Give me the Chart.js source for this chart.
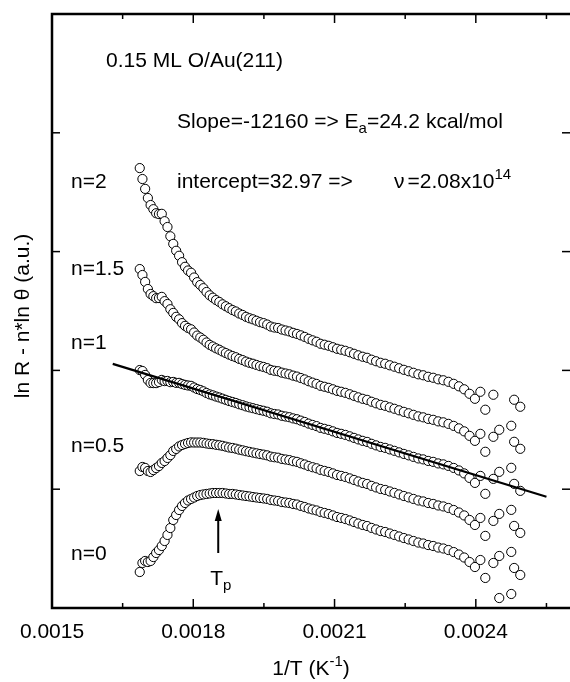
<!DOCTYPE html>
<html>
<head>
<meta charset="utf-8">
<title>ln R - n*ln theta vs 1/T</title>
<script src="https://cdn.jsdelivr.net/npm/chart.js@4.4.1/dist/chart.umd.min.js"></script>
<style>
  html, body { margin: 0; padding: 0; background: #fff; }
  #wrap { width: 570px; height: 682px; }
</style>
</head>
<body>
<div id="wrap"><canvas id="arrhenius" width="570" height="682"></canvas></div>
<script>
// temperatures of the points (K); x axis is 1/T
var temperature = [593,591,589,587,585,583,581,579,577,575,
  573,571,569,567,565,563,561,559,557,555,
  553,551,549,547,545,543,541,539,537,535,
  533,531,529,527,525,523,521,519,517,515,
  513,511,509,507,505,503,501,499,497,495,
  493,491,489,487,485,483,481,479,477,475,
  473,471,469,467,465,463,461,459,457,455,
  453,451,449,447,445,443,441,439,437,435,
  433,431,429,427,425,423,421,419,417,
  415.0,413.2,410.3,408.2,404.0,403.0,400.9];

// ln R - n*ln(theta), a.u., one array per n
var curveN0 = [-4.37,-3.61,-3.44,-3.53,-3.44,-3.11,-2.77,-2.52,-2.18,-1.76,
  -1.25,-0.67,0.01,0.43,0.85,1.19,1.44,1.65,1.78,1.90,
  2.03,2.11,2.16,2.20,2.24,2.28,2.28,2.28,2.28,2.24,
  2.20,2.20,2.16,2.11,2.07,2.03,1.99,1.94,1.90,1.86,
  1.82,1.78,1.69,1.65,1.61,1.52,1.48,1.44,1.36,1.31,
  1.19,1.10,0.98,0.89,0.81,0.68,0.60,0.51,0.39,0.26,
  0.18,0.09,-0.03,-0.16,-0.29,-0.41,-0.50,-0.66,-0.79,-0.92,
  -1.00,-1.13,-1.25,-1.38,-1.51,-1.63,-1.76,-1.89,-1.97,-2.10,
  -2.18,-2.31,-2.39,-2.52,-2.69,-2.90,-3.15,-3.53,-3.95,
  -3.36,-4.87,-3.61,-6.56,-6.22,-4.03,-4.62];

var curveN05 = [4.13,4.47,4.39,4.13,4.05,4.21,4.38,4.55,4.81,4.97,
  5.23,5.47,5.82,5.99,6.20,6.32,6.41,6.49,6.54,6.53,
  6.53,6.53,6.50,6.45,6.41,6.39,6.34,6.30,6.25,6.18,
  6.11,6.07,6.01,5.93,5.87,5.80,5.74,5.68,5.62,5.56,
  5.51,5.45,5.34,5.29,5.25,5.15,5.10,5.05,4.96,4.90,
  4.78,4.68,4.55,4.45,4.36,4.22,4.14,4.05,3.93,3.80,
  3.72,3.63,3.51,3.38,3.25,3.13,3.04,2.88,2.75,2.62,
  2.54,2.41,2.29,2.16,2.03,1.91,1.78,1.65,1.57,1.44,
  1.36,1.23,1.15,1.02,0.85,0.64,0.39,0.01,-0.41,
  0.18,-1.33,-0.07,-3.02,-2.68,-0.49,-1.08];

var curveN1 = [12.63,12.55,12.22,11.79,11.54,11.53,11.53,11.62,11.80,11.70,
  11.71,11.61,11.63,11.55,11.55,11.45,11.38,11.33,11.30,11.16,
  11.03,10.95,10.84,10.70,10.58,10.50,10.40,10.32,10.22,10.12,
  10.02,9.94,9.86,9.75,9.67,9.57,9.49,9.42,9.34,9.26,
  9.20,9.12,8.99,8.93,8.89,8.78,8.72,8.66,8.56,8.49,
  8.37,8.26,8.12,8.01,7.91,7.76,7.68,7.59,7.47,7.34,
  7.26,7.17,7.05,6.92,6.79,6.67,6.58,6.42,6.29,6.16,
  6.08,5.95,5.83,5.70,5.57,5.45,5.32,5.19,5.11,4.98,
  4.90,4.77,4.69,4.56,4.39,4.18,3.93,3.55,3.13,
  3.72,2.21,3.47,0.52,0.86,3.05,2.46];

var curveN15 = [21.13,20.63,20.05,19.45,19.03,18.85,18.68,18.69,18.79,18.43,
  18.19,17.75,17.44,17.11,16.90,16.58,16.35,16.17,16.06,15.79,
  15.53,15.37,15.18,14.95,14.75,14.61,14.46,14.34,14.19,14.06,
  13.93,13.81,13.71,13.57,13.47,13.34,13.24,13.16,13.06,12.96,
  12.89,12.79,12.64,12.57,12.53,12.41,12.34,12.27,12.16,12.08,
  11.96,11.84,11.69,11.57,11.46,11.30,11.22,11.13,11.01,10.88,
  10.80,10.71,10.59,10.46,10.33,10.21,10.12,9.96,9.83,9.70,
  9.62,9.49,9.37,9.24,9.11,8.99,8.86,8.73,8.65,8.52,
  8.44,8.31,8.23,8.10,7.93,7.72,7.47,7.09,6.67,
  7.26,5.75,7.01,4.06,4.40,6.59,6.00];

var curveN2 = [29.63,28.71,27.88,27.11,26.52,26.17,25.83,25.76,25.78,25.16,
  24.67,23.89,23.25,22.67,22.25,21.71,21.32,21.01,20.82,20.42,
  20.03,19.79,19.52,19.20,18.92,18.72,18.52,18.36,18.16,18.00,
  17.84,17.68,17.56,17.39,17.27,17.11,16.99,16.90,16.78,16.66,
  16.58,16.46,16.29,16.21,16.17,16.04,15.96,15.88,15.76,15.67,
  15.55,15.42,15.26,15.13,15.01,14.84,14.76,14.67,14.55,14.42,
  14.34,14.25,14.13,14.00,13.87,13.75,13.66,13.50,13.37,13.24,
  13.16,13.03,12.91,12.78,12.65,12.53,12.40,12.27,12.19,12.06,
  11.98,11.85,11.77,11.64,11.47,11.26,11.01,10.63,10.21,
  10.80,9.29,10.55,7.60,7.94,10.13,9.54];

// straight fit through the n=1 curve
var fitInvT = [0.001629, 0.00255];
var fitY = [13.15, 1.96];

// peak temperature marker (arrow), 1/T and arrow ends
var tpInvT = 0.001853;
var tpArrowY = [-2.77, 0.93];

var curveLabels = ['n=0', 'n=0.5', 'n=1', 'n=1.5', 'n=2'];
var xTickValues = [0.0015, 0.0018, 0.0021, 0.0024];
var xMinorTicks = [0.00165, 0.00195, 0.00225, 0.00255];
var yTickValues = [2.6, 12.6, 22.6, 32.6];

var FONT = "'Liberation Sans', Arial, Helvetica, sans-serif";

(function(){
    function toPoints(vals){
        return temperature.map(function(T, i){ return { x: 1 / T, y: vals[i] }; });
    }

    function curveSet(label, vals){
        return {
            label: label,
            data: toPoints(vals),
            showLine: false,
            pointStyle: 'circle',
            pointRadius: 4.6,
            pointHoverRadius: 4.6,
            pointBorderWidth: 1,
            pointBorderColor: '#000',
            pointBackgroundColor: '#fff'
        };
    }

    // draws text pieces with sub/superscripts, returns end x
    function rich(ctx, parts, x, y){
        parts.forEach(function(p){
            ctx.font = (p.size || 21) + 'px ' + FONT;
            ctx.fillText(p.t, x, y + (p.dy || 0));
            x += ctx.measureText(p.t).width + (p.gap || 0);
        });
        return x;
    }
    function richWidth(ctx, parts){
        var w = 0;
        parts.forEach(function(p){
            ctx.font = (p.size || 21) + 'px ' + FONT;
            w += ctx.measureText(p.t).width + (p.gap || 0);
        });
        return w;
    }

    function seg(ctx, x1, y1, x2, y2){
        ctx.beginPath(); ctx.moveTo(x1, y1); ctx.lineTo(x2, y2); ctx.stroke();
    }

    var frame = {
        id: 'frame',
        afterDraw: function(chart){
            var ctx = chart.ctx, a = chart.chartArea;
            var xs = chart.scales.x, ys = chart.scales.y;
            ctx.save();
            ctx.strokeStyle = '#000';
            ctx.fillStyle = '#000';
            ctx.lineCap = 'butt';

            // box (right edge sits on the canvas border)
            ctx.lineWidth = 2.5;
            ctx.beginPath();
            ctx.moveTo(a.right, a.top); ctx.lineTo(a.left, a.top);
            ctx.lineTo(a.left, a.bottom); ctx.lineTo(a.right, a.bottom);
            ctx.stroke();

            // inward ticks
            ctx.lineWidth = 1.5;
            xTickValues.forEach(function(v){
                var px = xs.getPixelForValue(v);
                seg(ctx, px, a.bottom, px, a.bottom - 9);
                seg(ctx, px, a.top, px, a.top + 9);
            });
            xMinorTicks.forEach(function(v){
                var px = xs.getPixelForValue(v);
                seg(ctx, px, a.bottom, px, a.bottom - 5);
                seg(ctx, px, a.top, px, a.top + 5);
            });
            yTickValues.forEach(function(v){
                var py = ys.getPixelForValue(v);
                seg(ctx, a.left, py, a.left + 8, py);
                seg(ctx, a.right, py, a.right - 8, py);
            });

            // x tick labels
            ctx.font = '21px ' + FONT;
            ctx.textAlign = 'center';
            ctx.textBaseline = 'alphabetic';
            xTickValues.forEach(function(v){
                ctx.fillText(v.toFixed(4), xs.getPixelForValue(v), 638);
            });

            ctx.textAlign = 'left';
            // x title
            var xt = [{t: '1/T (K'}, {t: '-1', size: 15, dy: -9}, {t: ')'}];
            rich(ctx, xt, (a.left + a.right) / 2 - richWidth(ctx, xt) / 2, 675);

            // y title
            ctx.save();
            ctx.translate(29, (a.top + a.bottom) / 2 + 5);
            ctx.rotate(-Math.PI / 2);
            ctx.font = '21px ' + FONT;
            ctx.textAlign = 'center';
            ctx.fillText('ln R - n*ln \u03b8 (a.u.)', 0, 0);
            ctx.restore();

            // annotations
            ctx.textAlign = 'left';
            rich(ctx, [{t: '0.15 ML O/Au(211)'}], 106, 67);
            rich(ctx, [{t: 'Slope=-12160 => E'}, {t: 'a', size: 15, dy: 5}, {t: '=24.2 kcal/mol'}], 177, 128);
            rich(ctx, [{t: 'intercept=32.97 =>'}], 177, 188);
            rich(ctx, [{t: '\u03bd', gap: 3}, {t: '=2.08x10'}, {t: '14', size: 15, dy: -9}], 394, 188);

            var labelY = [560, 452, 349, 275, 188];
            curveLabels.forEach(function(t, i){
                ctx.font = '21px ' + FONT;
                ctx.fillText(t, 71, labelY[i]);
            });

            // T_p arrow
            var ax = xs.getPixelForValue(tpInvT);
            var yTail = ys.getPixelForValue(tpArrowY[0]);
            var yTip = ys.getPixelForValue(tpArrowY[1]);
            ctx.lineWidth = 2;
            seg(ctx, ax, yTail, ax, yTip + 8);
            ctx.beginPath();
            ctx.moveTo(ax, yTip);
            ctx.lineTo(ax - 3.5, yTip + 12);
            ctx.lineTo(ax + 3.5, yTip + 12);
            ctx.closePath();
            ctx.fill();
            rich(ctx, [{t: 'T'}, {t: 'p', size: 15, dy: 5}], ax - 8, 585);

            ctx.restore();
        }
    };

    function initChart(){
        var el = document.getElementById('arrhenius');
        if(!el) return;
        if(typeof Chart === 'undefined'){
            console.warn('Chart.js not loaded');
            return;
        }
        var fitLine = {
            label: 'fit',
            data: fitInvT.map(function(v, i){ return { x: v, y: fitY[i] }; }),
            showLine: true,
            borderColor: '#000',
            borderWidth: 2.2,
            pointRadius: 0,
            fill: false
        };
        var sets = [fitLine,
            curveSet(curveLabels[4], curveN2),
            curveSet(curveLabels[3], curveN15),
            curveSet(curveLabels[2], curveN1),
            curveSet(curveLabels[1], curveN05),
            curveSet(curveLabels[0], curveN0)];

        new Chart(el.getContext('2d'), {
            type: 'scatter',
            data: { datasets: sets },
            options: {
                responsive: false,
                animation: false,
                devicePixelRatio: 1,
                layout: { autoPadding: false, padding: { left: 52, right: 0, top: 14, bottom: 74 } },
                plugins: { legend: { display: false }, tooltip: { enabled: false } },
                events: [],
                scales: {
                    x: { type: 'linear', min: 0.0015, max: 0.0026, display: false },
                    y: { type: 'linear', min: -7.4, max: 42.6, display: false }
                }
            },
            plugins: [frame]
        });
    }

    function ready(fn){
        if(document.readyState != 'loading') fn(); else document.addEventListener('DOMContentLoaded', fn);
    }
    ready(initChart);
})();
</script>
</body>
</html>
